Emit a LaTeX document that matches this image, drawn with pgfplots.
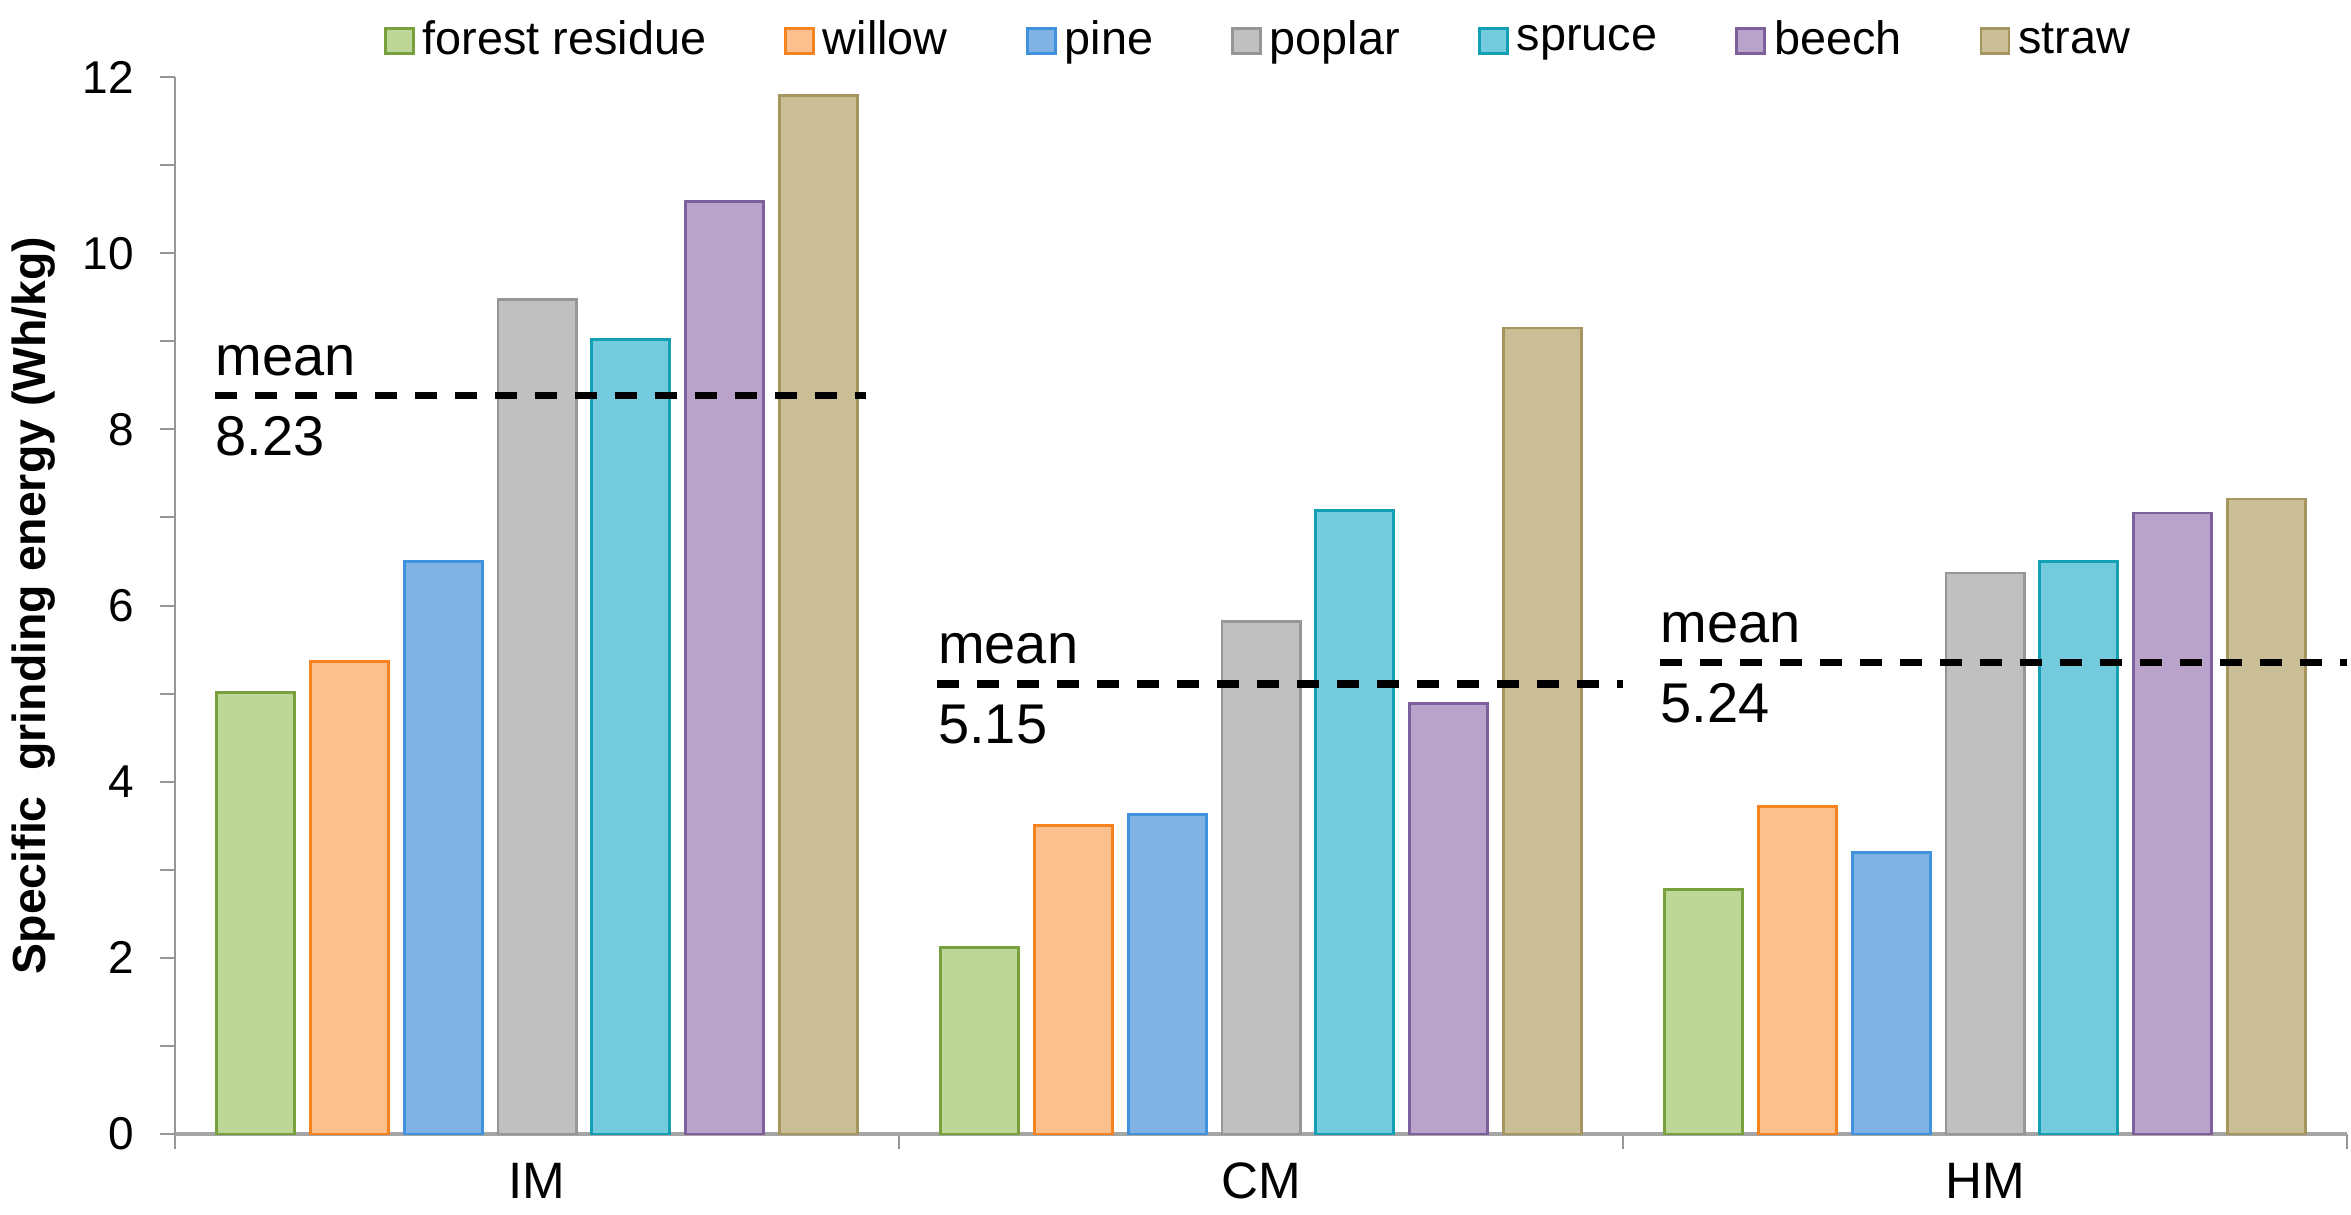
\documentclass[border=0pt]{standalone}
\usepackage{fontspec}
\setmainfont{Liberation Sans}
\usepackage{pgfplots}
\pgfplotsset{compat=1.18}
\definecolor{axisgray}{RGB}{150,150,150}
\definecolor{xaxisgray}{RGB}{165,165,165}
\definecolor{c1f}{RGB}{189,215,152}\definecolor{c1d}{RGB}{120,160,60}
\definecolor{c2f}{RGB}{252,192,142}\definecolor{c2d}{RGB}{247,130,32}
\definecolor{c3f}{RGB}{128,178,227}\definecolor{c3d}{RGB}{65,146,220}
\definecolor{c4f}{RGB}{192,192,192}\definecolor{c4d}{RGB}{150,150,150}
\definecolor{c5f}{RGB}{117,203,222}\definecolor{c5d}{RGB}{20,160,180}
\definecolor{c6f}{RGB}{185,163,202}\definecolor{c6d}{RGB}{125,95,155}
\definecolor{c7f}{RGB}{201,190,150}\definecolor{c7d}{RGB}{165,150,95}
\begin{document}
\begin{tikzpicture}
\useasboundingbox (-43.75pt,-20pt) rectangle (544pt,283.5pt);
\begin{axis}[
  at={(0,0)}, anchor=south west,
  scale only axis, width=543pt, height=264.25pt,
  xmin=-0.5, xmax=2.5, ymin=0, ymax=12,
  axis x line*=bottom, axis y line*=left,
  axis line style={draw=axisgray, line width=0.5pt},
  x axis line style={draw=xaxisgray, line width=1pt},
  xtick={0,1,2}, xticklabels={IM,CM,HM},
  minor xtick={-0.5,0.5,1.5,2.5},
  ytick={0,2,...,12}, minor ytick={1,3,...,11},
  tick align=outside,
  major tick length=3.75pt, minor tick length=3.75pt,
  major x tick style={draw=none},
  tick style={draw=axisgray, line width=0.5pt},
  /pgf/number format/assume math mode=true,
  yticklabel style={font=\fontsize{11.5}{13}\selectfont, xshift=-3pt},
  xticklabel style={font=\fontsize{12.8}{14}\selectfont},
  ylabel={\bfseries Specific\ \ grinding energy (Wh/kg)},
  ylabel style={font=\fontsize{11.6}{13}\selectfont},
  ybar, bar width=0.108,
  legend columns=7,
  legend style={at={(0.5,1)}, anchor=center, yshift=9pt,
    draw=none, fill=none, font=\fontsize{11.7}{13}\selectfont,
    /tikz/every even column/.append style={column sep=17.5pt}},
  legend image code/.code={\draw[#1] (0pt,-3.1pt) rectangle (7pt,3.1pt);},
]
\addplot[fill=c1f, draw=c1d, line width=0.7pt, bar shift=-0.3885] coordinates {(0,5.01) (1,2.12) (2,2.78)};
\addplot[fill=c2f, draw=c2d, line width=0.7pt, bar shift=-0.259] coordinates {(0,5.36) (1,3.50) (2,3.72)};
\addplot[fill=c3f, draw=c3d, line width=0.7pt, bar shift=-0.1295] coordinates {(0,6.50) (1,3.63) (2,3.20)};
\addplot[fill=c4f, draw=c4d, line width=0.7pt, bar shift=0] coordinates {(0,9.47) (1,5.82) (2,6.37)};
\addplot[fill=c5f, draw=c5d, line width=0.7pt, bar shift=0.1295] coordinates {(0,9.02) (1,7.08) (2,6.50)};
\addplot[fill=c6f, draw=c6d, line width=0.7pt, bar shift=0.259] coordinates {(0,10.59) (1,4.89) (2,7.05)};
\addplot[fill=c7f, draw=c7d, line width=0.7pt, bar shift=0.3885] coordinates {(0,11.79) (1,9.15) (2,7.21)};
\legend{forest residue,willow,pine,poplar,spruce,beech,straw}
\addplot[sharp plot, forget plot, black, line width=1.8pt, dash pattern=on 5.5pt off 4.5pt] coordinates {(-0.445,8.38) (0.455,8.38)};
\addplot[sharp plot, forget plot, black, line width=1.8pt, dash pattern=on 5.5pt off 4.5pt] coordinates {(0.553,5.11) (1.50,5.11)};
\addplot[sharp plot, forget plot, black, line width=1.8pt, dash pattern=on 5.5pt off 4.5pt] coordinates {(1.551,5.35) (2.50,5.35)};
\node[anchor=base west, inner sep=0pt, yshift=5pt, font=\fontsize{14}{16}\selectfont] at (axis cs:-0.445,8.38) {mean};
\node[anchor=north west, inner sep=0pt, yshift=-5pt, font=\fontsize{14}{16}\selectfont] at (axis cs:-0.445,8.38) {8.23};
\node[anchor=base west, inner sep=0pt, yshift=5pt, font=\fontsize{14}{16}\selectfont] at (axis cs:0.553,5.11) {mean};
\node[anchor=north west, inner sep=0pt, yshift=-5pt, font=\fontsize{14}{16}\selectfont] at (axis cs:0.553,5.11) {5.15};
\node[anchor=base west, inner sep=0pt, yshift=5pt, font=\fontsize{14}{16}\selectfont] at (axis cs:1.551,5.35) {mean};
\node[anchor=north west, inner sep=0pt, yshift=-5pt, font=\fontsize{14}{16}\selectfont] at (axis cs:1.551,5.35) {5.24};
\end{axis}
\end{tikzpicture}
\end{document}
